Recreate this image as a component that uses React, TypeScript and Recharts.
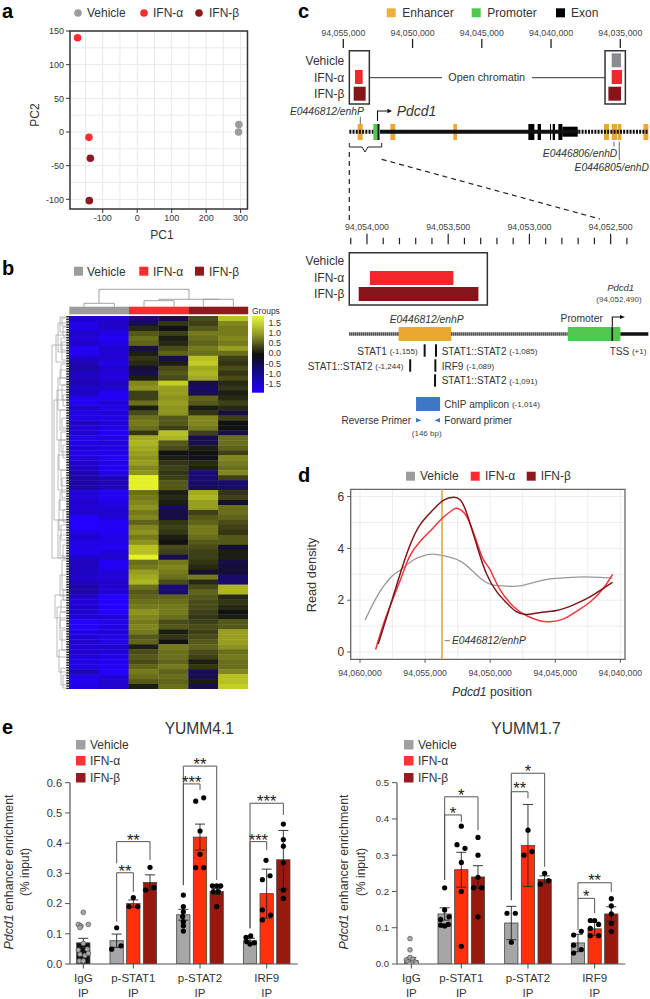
import React from "react";
import {
  ComposedChart, ScatterChart, LineChart, Scatter, Line, Bar, ErrorBar, XAxis, YAxis,
  CartesianGrid, ReferenceArea, ReferenceLine,
} from "recharts";

const FONT = '"Liberation Sans", Arial, sans-serif';
const GRAY = "#9C9C9C";
const RED = "#FF2B2F";
const DARK = "#8E1A1E";
const ORANGE = "#E9A82F";
const GREEN = "#50C850";
const INK = "#333";

/* ---------- a: PCA ---------- */
const pcaVehicle = [{ x: 295, y: 11 }, { x: 294, y: 0 }];
const pcaAlpha = [{ x: -173, y: 140 }, { x: -140, y: -8 }];
const pcaBeta = [{ x: -136, y: -39 }, { x: -139, y: -102 }];
const pcaXTicks = [-100, 0, 100, 200, 300];
const pcaYTicks = [-100, -50, 0, 50, 100, 150];
const pcaXGrid = [-150, -100, -50, 0, 50, 100, 150, 200, 250, 300];
const pcaYGrid = [-100, -75, -50, -25, 0, 25, 50, 75, 100, 125, 150];

/* ---------- b: heatmap ---------- */
const heatVeh1 = [-1.5,-1.7,-1.7,-1.5,-1.6,-1.5,-1.8,-1.8,-1.5,-1.3,-1.2,-1.4,-1.4,-1.3,-1.5,-1.4,-1.7,-1.8,-1.5,-1.7,-1.7,-1.4,-1.6,-1.5,-1.7,-1.7,-1.6,-1.7,-1.6,-1.5,-1.5,-1.3,-1.2,-1.2,-1.2,-1.6,-1.6,-1.5,-1.6,-1.5,-1.9,-1.9,-1.9,-1.7,-1.5,-1.7,-1.7,-1.8,-1.5,-1.4,-1.4,-1.4,-1.5,-1.4,-1.2,-1.2,-1.5,-1.6,-1.5,-1.5,-1.6,-1.9,-1.9,-1.7,-1.6,-1.5,-1.6,-1.5,-1.6,-1.7,-1.7,-1.3,-1.7,-1.8,-1.7];
const heatVeh2 = [-1.6,-1.4,-1.5,-1.7,-1.8,-1.7,-1.5,-1.6,-1.5,-1.7,-1.5,-1.6,-1.6,-1.4,-1.5,-1.8,-1.8,-1.6,-1.7,-1.6,-1.7,-1.6,-1.7,-1.8,-1.7,-1.6,-1.7,-1.7,-1.8,-1.7,-1.8,-1.7,-1.4,-1.3,-1.4,-1.8,-1.8,-1.7,-1.6,-1.5,-1.6,-1.8,-1.8,-1.8,-1.7,-1.7,-1.8,-1.6,-1.5,-1.8,-1.8,-1.6,-1.6,-1.5,-1.5,-1.6,-2,-2,-2,-1.9,-1.6,-1.7,-1.7,-1.6,-1.7,-1.7,-1.5,-1.6,-1.7,-1.8,-1.8,-2,-1.6,-1.5,-1.5];
const heatA1 = [-0.7,-0.5,0.2,0.6,0.8,0.7,-0.4,0.1,0.3,0.2,-0.3,-0.5,0.1,1.0,1.1,0.4,0.4,0.8,0.1,0.5,0.8,0.9,0.8,0.3,1.3,1.4,1.3,1.2,1.1,1.2,1.0,1.1,1.9,1.9,1.9,0.8,0.9,1.0,1.1,0.9,1.0,0.7,1.0,1.1,0.9,1.1,1.5,1.5,1.9,0.8,0.9,1.2,1.3,1.4,0.8,0.6,0.7,0.8,0.9,1.1,1.0,0.9,1.0,0.9,0.6,0.7,0.1,0.5,0.6,0.5,0.7,0.9,0.8,0.6,0.1];
const heatA2 = [-0.4,0.3,0.0,0.4,0.1,0.2,0.5,0.7,-0.5,0.1,0.5,0.6,0.5,1.6,1.2,1.2,1.1,1.2,1.1,1.1,0.6,0.6,0.4,1.5,1.4,0.6,0.5,0.0,0.1,0.3,0.4,0.3,0.4,0.6,0.6,0.1,0.2,0.1,-0.6,-0.4,-0.4,0.3,0.4,0.3,0.1,0.0,0.5,0.4,-0.5,0.9,1.0,0.9,0.8,0.5,-0.8,-0.8,0.7,0.8,0.9,0.9,0.8,0.5,0.6,0.1,0.3,0.0,0.9,0.8,0.8,0.7,0.9,0.7,0.8,0.7,0.8];
const heatB1 = [0.5,0.4,0.6,0.9,0.8,0.7,0.9,0.8,1.5,1.6,1.3,1.4,1.3,-0.4,-0.7,-0.5,0.7,0.6,0.1,0.3,1.0,1.0,0.9,0.4,-0.5,-0.5,0.1,0,-0.1,0.2,0.1,-0.8,-0.8,-0.7,-0.6,1.3,1.4,1.2,1.2,0.4,0.6,0.7,0.9,0.9,0.8,0.6,0.5,0.4,0.4,0.3,0.2,-0.2,0.9,0.2,0.5,0.7,0.6,0.5,0.5,0.4,0.3,0.4,0.5,0.4,0.5,0.6,0.7,0.5,0.4,0.1,0.3,-0.6,-0.5,0.1,-0.5];
const heatB2 = [1.5,1.0,0.9,0.9,1.0,0.9,1.2,0.8,0.4,0.3,0.5,0.3,0.5,0.2,0.3,0.1,0.2,0.4,0.2,-0.4,0.4,0.0,0.0,-0.5,0.8,0.8,0.7,0.4,1.0,0.9,0.8,1.0,0.4,-0.7,-0.7,0.3,0.4,-0.2,0.8,0.8,0.7,0.5,0.4,0.3,0.6,0.6,-0.3,0.1,0.1,-0.4,-0.3,-0.3,-0.7,-0.7,1.4,1.4,0.2,0.3,0.2,0,0.1,0.6,0.6,1.2,1.2,1.2,1.1,0.8,0.9,0.8,0.8,1.0,1.5,1.5,1.6];
const heatColumns = [heatVeh1, heatVeh2, heatA1, heatA2, heatB1, heatB2];
const legendScaleLabels = ["1.5", "1.0", "0.5", "0.0", "-0.5", "-1.0", "-1.5"];
const sideDendro = [[60,317,332],[62,318,326],[63,327,336],[58,323,352],[61,338,350],[62,342,360],[56,335,362],[52,345,558],[61,364,378],[60,370,385],[58,378,410],[62,385,400],[63,395,406],[57,390,440],[60,410,430],[62,418,428],[61,432,452],[59,440,470],[63,445,458],[58,455,490],[61,470,486],[62,478,498],[60,492,510],[59,500,530],[63,510,522],[61,525,540],[60,535,556],[63,545,558],[58,520,558],[54,400,520],[62,560,590],[60,575,596],[63,590,600],[61,600,612],[55,595,618],[57,607,657],[60,620,640],[62,630,650],[59,650,672],[61,668,685],[63,675,688],[60,612,628]];

/* ---------- c: locus tracks ---------- */
const locusTicks = [94055000, 94050000, 94045000, 94040000, 94035000];
const openLeft = [94054564, 94053120];
const openRight = [94036102, 94034634];
const vehPeaks = [[94035621, 94034947]];
const alphaPeaks = [[94054155, 94053602], [94035621, 94034875]];
const betaPeaks = [[94054251, 94053385], [94035861, 94034947]];
const enhancers = [[94053963, 94053602],[94051604, 94051243],[94047055, 94046790],[94036175, 94035814],[94035621, 94035236],[94035188, 94034923],[94033335, 94032974]];
const promoter = [94052831, 94052350];
const tssTop = 94052470;
const exons = [[94041639, 94041205],[94040965, 94040724],[94040074, 94040002],[94039882, 94039713],[94039473, 94039184]];
const utr = [94039184, 94038076];
const dottedTop = [[94054564, 94052831],[94038028, 94032974]];
const solidTop = [94052350, 94038028];

const zoomTicks = [94054100,94054000,94053900,94053800,94053700,94053600,94053500,94053400,94053300,94053200,94053100,94053000,94052900,94052800,94052700,94052600,94052500,94052400];
const zoomMajor = [94054000, 94053500, 94053000, 94052500];
const zoomBox = [94054109, 94053259];
const zoomAlpha = [94053982, 94053468];
const zoomBeta = [94054051, 94053314];
const zoomEnh = [94053805, 94053481];
const zoomProm = [94052764, 94052440];
const TSS = 94052490;
const zoomDotted = [[94054109, 94053805],[94053481, 94052764]];
const zoomSolid = [94052440, 94052268];
const motifsRow1 = [-1155, -1085];
const motifsRow2 = [-1244, -1089];
const motifsRow3 = [-1091];
const amplicon = [94053698, 94053550];

/* ---------- d: read density ---------- */
const densityVehicle = [[94059600,1.24],[94058700,2.14],[94057700,2.85],[94056900,3.17],[94055900,3.55],[94054900,3.75],[94054400,3.78],[94053600,3.72],[94052300,3.51],[94051300,3.1],[94050500,2.75],[94049800,2.59],[94048700,2.54],[94047700,2.55],[94046700,2.68],[94045400,2.82],[94044100,2.87],[94042900,2.9],[94041600,2.88],[94040600,2.85]];
const densityAlpha = [[94058800,0.1],[94058000,1.36],[94056900,2.78],[94056200,3.68],[94055400,4.26],[94054400,4.78],[94053600,5.2],[94052800,5.51],[94052500,5.54],[94051800,5.23],[94051000,4.2],[94050500,3.55],[94050000,3.17],[94049300,2.46],[94048200,1.75],[94047200,1.4],[94046200,1.21],[94045400,1.17],[94044400,1.27],[94043400,1.56],[94042300,1.94],[94041300,2.46],[94040600,3.0]];
const densityBeta = [[94058600,0.31],[94057700,1.75],[94056900,3.04],[94056200,4.07],[94055400,4.9],[94054400,5.48],[94053600,5.85],[94052800,5.97],[94052300,5.87],[94051800,5.36],[94051000,4.07],[94050300,3.04],[94049500,2.33],[94048700,1.88],[94048000,1.56],[94047200,1.45],[94046200,1.52],[94044900,1.6],[94043600,1.82],[94042300,2.14],[94041300,2.46],[94040600,2.69]];
const densityXTicks = [94060000, 94055000, 94050000, 94045000, 94040000];
const densityXGrid = [94060000,94057500,94055000,94052500,94050000,94047500,94045000,94042500,94040000];
const densityYTicks = [0, 2, 4, 6];
const densityYGrid = [0, 1, 2, 3, 4, 5, 6];
const enhPosition = 94053700;

/* ---------- e: ChIP bars ---------- */
const slots = [0, 2, 3, 4, 6, 7, 8, 10, 11, 12];
const ipTickSlots = [0, 3, 7, 11];
const ipTickNames = ["IgG", "p-STAT1", "p-STAT2", "IRF9"];
const y41Means = [0.07, 0.077, 0.2, 0.27, 0.163, 0.42, 0.24, 0.077, 0.233, 0.345];
const y41Errs = [0.015, 0.022, 0.012, 0.025, 0.018, 0.043, 0.01, 0.008, 0.081, 0.097];
const y41Ticks = [0, 0.1, 0.2, 0.3, 0.4, 0.5, 0.6];
const y41Igg = [[0,0.171],[-0.3,0.131],[-0.14,0.126],[0.3,0.131],[-0.2,0.121],[0,0.068],[-0.3,0.046],[0.24,0.049],[-0.2,0.032],[0.1,0.028],[0.3,0.035],[-0.24,0.01],[0,0.01]];
const y41Dots = [[2,0.12],[1.7,0.049],[2.26,0.06],[3,0.22],[2.74,0.19],[3.26,0.19],[4,0.32],[3.74,0.245],[4.24,0.253],[6,0.228],[6,0.19],[6,0.173],[5.96,0.157],[6,0.14],[6,0.127],[6,0.109],[6.74,0.539],[7.22,0.55],[7,0.44],[7,0.363],[6.74,0.319],[7.22,0.319],[7.74,0.259],[8,0.259],[8.24,0.259],[7.8,0.24],[8.1,0.24],[8,0.19],[9.76,0.088],[10.04,0.093],[9.8,0.074],[10,0.066],[10.26,0.07],[10.96,0.343],[10.74,0.279],[11.2,0.292],[10.74,0.179],[11.24,0.162],[10.74,0.146],[12,0.463],[12,0.412],[12,0.39],[12,0.335],[12,0.245],[12,0.217]];
const y41Brackets = [[2,3,0.302,0.14,0.239],[2,4,0.405,0.333,0.344],[6,7,0.596,0.261,0.576],[6,8,0.655,0.261,0.278],[10,11,0.405,0.118,0.377],[10,12,0.532,0.118,0.493]];
const y41Stars = [[2.5,0.318,"**"],[3,0.42,"**"],[6.5,0.613,"***"],[7,0.672,"**"],[10.5,0.42,"***"],[11,0.55,"***"]];
const y17Means = [0.01, 0.138, 0.26, 0.24, 0.113, 0.327, 0.233, 0.058, 0.097, 0.138];
const y17Errs = [0.008, 0.017, 0.048, 0.031, 0.046, 0.113, 0.01, 0.024, 0.018, 0.02];
const y17Ticks = [0, 0.1, 0.2, 0.3, 0.4, 0.5];
const y17Igg = [[-0.08,0.07],[-0.08,0.039],[-0.08,0.018],[-0.3,0.011],[0.1,0.013],[-0.2,0.006],[0.2,0.006],[0,0.003],[0.3,0.003],[-0.1,0]];
const y17Dots = [[2,0.21],[2,0.149],[1.76,0.123],[2.26,0.13],[1.76,0.107],[2,0.105],[2.22,0.109],[3,0.38],[2.74,0.329],[3.22,0.319],[3,0.28],[3,0.2],[3,0.049],[4,0.349],[4,0.3],[4,0.239],[3.74,0.21],[4.22,0.21],[4,0.13],[5.74,0.14],[6.24,0.14],[6,0.06],[7,0.369],[6.76,0.3],[7.24,0.31],[8,0.25],[7.74,0.22],[8.24,0.23],[9.74,0.08],[10.2,0.09],[9.74,0.052],[10.2,0.04],[9.74,0.03],[10.74,0.098],[11.24,0.109],[10.74,0.078],[11.24,0.078],[10.74,0.12],[11,0.12],[12,0.18],[12,0.16],[12,0.138],[12,0.112],[12,0.09]];
const y17Brackets = [[2,3,0.411,0.232,0.392],[2,4,0.461,0.232,0.369],[6,7,0.475,0.176,0.457],[6,8,0.526,0.176,0.268],[10,11,0.181,0.094,0.14],[10,12,0.224,0.181,0.199]];
const y17Stars = [[2.5,0.425,"*"],[3,0.475,"*"],[6.5,0.494,"**"],[7,0.54,"*"],[10.5,0.195,"*"],[11,0.239,"**"]];
const barFills = ["#111", "#A6A6A6", "#FF300C", "#981A0E", "#A6A6A6", "#FF300C", "#981A0E", "#A6A6A6", "#FF300C", "#981A0E"];
const barFills17 = ["#A6A6A6", "#A6A6A6", "#FF300C", "#981A0E", "#A6A6A6", "#FF300C", "#981A0E", "#A6A6A6", "#FF300C", "#981A0E"];

/* ---------- helpers ---------- */
const Abs = ({ l, t, children }: any) => <div style={{ position: "absolute", left: l, top: t }}>{children}</div>;

const T = ({ x, y, s = 10, a = "start", w, i, fill = INK, rot, children }: any) => (
  <text x={x} y={y} fontSize={s} textAnchor={a} dominantBaseline="central" fontWeight={w} fontStyle={i ? "italic" : undefined} fill={fill}
    transform={rot ? `rotate(${rot} ${x} ${y})` : undefined}>{children}</text>
);

const heatColor = (v: number) => {
  if (v >= 0) {
    const t = Math.min(v / 1.9, 1);
    return `rgb(${Math.round(18 + 210 * t)},${Math.round(18 + 222 * t)},${Math.round(18 + 22 * t)})`;
  }
  const t = Math.min(-v / 1.9, 1);
  return `rgb(${Math.round(18 + 18 * t)},${Math.round(18 - 18 * t)},${Math.round(18 + 237 * t)})`;
};

const heatPoints = heatColumns.flatMap((col, c) => col.map((v, r) => ({ col: c + 0.5, row: r + 0.5, v })));
const HEAT_W = 178.9, HEAT_H = 373;
const nRows = heatVeh1.length;
const HeatCell = (p: any) => {
  const w = HEAT_W / 6, h = HEAT_H / nRows;
  return <rect x={p.cx - w / 2} y={p.cy - h / 2} width={w + 0.3} height={h + 0.4} fill={heatColor(p.payload.v)} />;
};

const bandEls = (ranges: number[][], y1: number, y2: number, fill: string, key: string) =>
  ranges.map((r, i) => <ReferenceArea key={key + i} x1={r[0]} x2={r[1]} y1={y1} y2={y2} fill={fill} fillOpacity={1} stroke="none" ifOverflow="visible" />);
const segEls = (ranges: number[][], y: number, width: number, key: string, dash?: string) =>
  ranges.map((r, i) => (
    <ReferenceLine key={key + i} segment={[{ x: r[0], y }, { x: r[1], y }]} stroke="#111" strokeWidth={width} strokeDasharray={dash} ifOverflow="visible" />
  ));

const fmt = (v: number) => v.toLocaleString("en-US");

const TopTick = (p: any) => (
  <g>
    <line x1={p.x} x2={p.x} y1={p.y} y2={p.y - 9} stroke="#222" strokeWidth={1.3} />
    <text x={p.x} y={p.y - 15} fontSize={8.8} textAnchor="middle" dominantBaseline="central" fill="#444">{fmt(p.payload.value)}</text>
  </g>
);
const ZoomTick = (p: any) => {
  const major = zoomMajor.includes(p.payload.value);
  return (
    <g>
      <line x1={p.x} x2={p.x} y1={p.y} y2={p.y - (major ? 10.5 : 6.5)} stroke="#222" strokeWidth={1.2} />
      {major && <text x={p.x} y={p.y - 17.5} fontSize={8.8} textAnchor="middle" dominantBaseline="central" fill="#444">{fmt(p.payload.value)}</text>}
    </g>
  );
};

const Dot = (p: any) => <circle cx={p.cx} cy={p.cy} r={2.6} fill="#000" />;
const IgDot = (p: any) => <circle cx={p.cx} cy={p.cy} r={2.4} fill="#A8A8A8" stroke="#444" strokeWidth={0.6} />;
const Star = (p: any) => (
  <text x={p.cx} y={p.cy + 9} fontSize={16.5} textAnchor="middle" fill="#222" fontFamily={FONT}>{p.payload.label}</text>
);

const IpTick = (p: any) => {
  const name = ipTickNames[ipTickSlots.indexOf(p.payload.value)];
  return (
    <g>
      <line x1={p.x} x2={p.x} y1={p.y} y2={p.y + 4.5} stroke="#444" strokeWidth={1} />
      <text x={p.x} y={p.y + 14} fontSize={11.5} textAnchor="middle" dominantBaseline="central" fill={INK}>{name}</text>
      <text x={p.x} y={p.y + 28.5} fontSize={11.5} textAnchor="middle" dominantBaseline="central" fill={INK}>IP</text>
    </g>
  );
};

const EnrichChart = ({ width, height, right, top, domain, xDomain, means, errs, fills, ticks, igg, dots, brackets, stars, axisTop, tickSize }: any) => {
  const rows = slots.map((slot, i) => ({ slot, value: means[i], err: errs[i], fill: fills[i] }));
  const iggPts = igg.map((d: number[]) => ({ slot: d[0], value: d[1] }));
  const dotPts = dots.map((d: number[]) => ({ slot: d[0], value: d[1] }));
  const starPts = stars.map((d: any[]) => ({ slot: d[0], value: d[1], label: d[2] }));
  const BarRect = (p: any) => {
    const w = 13.3;
    const cx = p.x + p.width / 2;
    return <rect x={cx - w / 2} y={p.y} width={w} height={p.height} fill={p.payload?.fill ?? p.fill ?? "#888"} stroke="#444" strokeWidth={0.8} />;
  };
  return (
    <ComposedChart width={width} height={height} data={rows} margin={{ top, right, bottom: 0, left: 0 }} style={{ fontFamily: FONT }}>
      <XAxis dataKey="slot" type="number" domain={xDomain} allowDataOverflow ticks={ipTickSlots} interval={0} height={35} tickSize={0} tickMargin={0} tick={<IpTick />} tickLine={false} axisLine={{ stroke: "#555", strokeWidth: 1.2 }} />
      <YAxis dataKey="value" type="number" domain={domain} allowDataOverflow ticks={ticks} interval={0} width={50} tickSize={5} tickMargin={3} tick={{ fontSize: tickSize, fill: INK }} axisLine={false} tickLine={{ stroke: "#555" }} tickFormatter={(v: number) => v.toFixed(1)} />
      <ReferenceLine segment={[{ x: xDomain[0], y: 0 }, { x: xDomain[0], y: axisTop }]} stroke="#555" strokeWidth={1.2} ifOverflow="visible" />
      <Bar dataKey="value" barSize={13.3} isAnimationActive={false} shape={BarRect}>
        <ErrorBar dataKey="err" width={5} stroke="#222" strokeWidth={0.9} direction="y" isAnimationActive={false} />
      </Bar>
      <Scatter data={iggPts} shape={<IgDot />} isAnimationActive={false} />
      <Scatter data={dotPts} shape={<Dot />} isAnimationActive={false} />
      {brackets.flatMap((b: number[], i: number) => [
        <ReferenceLine key={"bt" + i} segment={[{ x: b[0], y: b[2] }, { x: b[1], y: b[2] }]} stroke="#555" strokeWidth={1} ifOverflow="visible" />,
        <ReferenceLine key={"bl" + i} segment={[{ x: b[0], y: b[3] }, { x: b[0], y: b[2] }]} stroke="#555" strokeWidth={1} ifOverflow="visible" />,
        <ReferenceLine key={"br" + i} segment={[{ x: b[1], y: b[4] }, { x: b[1], y: b[2] }]} stroke="#555" strokeWidth={1} ifOverflow="visible" />,
      ])}
      <Scatter data={starPts} shape={<Star />} isAnimationActive={false} />
    </ComposedChart>
  );
};

const Sq = ({ x, y, s = 9, fill }: any) => <rect x={x} y={y} width={s} height={s} fill={fill} />;

export default function App() {
  const dendroPath = sideDendro.map(([x, a, b]) => `M66 ${a}H${x}V${b}H66`).join(" ");
  const TR1 = { y1: 124, y2: 140, c: 131.7 };
  return (
    <div style={{ position: "absolute", left: 0, top: 0, width: 650, height: 999, background: "#fff", overflow: "hidden", fontFamily: FONT }}>
      {/* a */}
      <Abs l={20} t={20}>
        <ScatterChart width={240} height={209} margin={{ top: 11, right: 12.5, bottom: 0, left: 0 }} style={{ fontFamily: FONT }}>
          <CartesianGrid stroke="#E9E9E9" verticalValues={pcaXGrid} horizontalValues={pcaYGrid} />
          <XAxis dataKey="x" type="number" domain={[-195, 320]} allowDataOverflow ticks={pcaXTicks} interval={0} height={20} tickSize={4} tickMargin={2} tick={{ fontSize: 9, fill: INK }} tickLine={{ stroke: "#333" }} axisLine={false} />
          <YAxis dataKey="y" type="number" domain={[-114.4, 150]} allowDataOverflow ticks={pcaYTicks} interval={0} width={50} tickSize={4} tickMargin={2} tick={{ fontSize: 9, fill: INK }} tickLine={{ stroke: "#333" }} axisLine={false} />
          <ReferenceArea x1={-195} x2={320} y1={-114.4} y2={150} fill="none" fillOpacity={0} stroke="#333" strokeWidth={1.5} ifOverflow="visible" />
          <Scatter data={pcaVehicle} fill={GRAY} shape={(p: any) => <circle cx={p.cx} cy={p.cy} r={3.8} fill={GRAY} />} isAnimationActive={false} />
          <Scatter data={pcaAlpha} shape={(p: any) => <circle cx={p.cx} cy={p.cy} r={3.8} fill={RED} />} isAnimationActive={false} />
          <Scatter data={pcaBeta} shape={(p: any) => <circle cx={p.cx} cy={p.cy} r={3.8} fill={DARK} />} isAnimationActive={false} />
        </ScatterChart>
      </Abs>

      {/* b */}
      <Abs l={69.3} t={316}>
        <ScatterChart width={HEAT_W} height={HEAT_H} margin={{ top: 0, right: 0, bottom: 0, left: 0 }}>
          <XAxis dataKey="col" type="number" domain={[0, 6]} hide />
          <YAxis dataKey="row" type="number" domain={[0, nRows]} reversed hide />
          <Scatter data={heatPoints} shape={<HeatCell />} isAnimationActive={false} />
        </ScatterChart>
      </Abs>

      {/* c top */}
      <Abs l={285} t={25}>
        <ComposedChart width={365} height={185} data={locusTicks.map((x) => ({ x, y: 100 }))} margin={{ top: 0, right: 2, bottom: 0, left: 16.75 }} style={{ fontFamily: FONT }}>
          <XAxis xAxisId={0} dataKey="x" type="number" orientation="top" reversed domain={[94033000, 94058000]} allowDataOverflow ticks={locusTicks} interval={0} height={23} tickSize={0} tickMargin={0} tick={<TopTick />} tickLine={false} axisLine={false} />
          <YAxis dataKey="y" type="number" domain={[48, 210]} reversed hide />
          {[openLeft, openRight].map((r, i) => (
            <ReferenceArea key={"o" + i} x1={r[0]} x2={r[1]} y1={50.7} y2={104} fill="#fff" fillOpacity={0} stroke="#333" strokeWidth={1.5} ifOverflow="visible" />
          ))}
          {bandEls(vehPeaks, 53.3, 67.3, "#8C8C90", "v")}
          {bandEls(alphaPeaks, 70, 84, "#F3262B", "a")}
          {bandEls(betaPeaks, 86.7, 100.7, "#861519", "b")}
          {segEls(dottedTop, TR1.c, 4, "dt", "2 1.2")}
          {segEls([solidTop], TR1.c, 4, "st")}
          {bandEls(enhancers, TR1.y1, TR1.y2, ORANGE, "e")}
          {bandEls([promoter], TR1.y1, TR1.y2, GREEN, "p")}
          <ReferenceLine segment={[{ x: tssTop, y: TR1.y1 }, { x: tssTop, y: TR1.y2 }]} stroke="#111" strokeWidth={1.6} ifOverflow="visible" />
          {bandEls(exons, TR1.y1, TR1.y2, "#000", "x")}
          {bandEls([utr], 126.7, 136.7, "#000", "u")}
          <Line dataKey="y" stroke="none" dot={false} isAnimationActive={false} />
        </ComposedChart>
      </Abs>

      {/* c zoom */}
      <Abs l={285} t={210}>
        <ComposedChart width={365} height={250} data={zoomTicks.map((x) => ({ x, y: 300 }))} margin={{ top: 0, right: 2, bottom: 0, left: 17 }} style={{ fontFamily: FONT }}>
          <XAxis dataKey="x" type="number" orientation="top" reversed domain={[94052270, 94054400]} allowDataOverflow ticks={zoomTicks} interval={0} height={34.3} tickSize={0} tickMargin={0} tick={<ZoomTick />} tickLine={false} axisLine={false} />
          <YAxis dataKey="y" type="number" domain={[244.3, 460]} reversed hide />
          <ReferenceArea x1={zoomBox[0]} x2={zoomBox[1]} y1={252.7} y2={305} fill="#fff" fillOpacity={0} stroke="#333" strokeWidth={1.5} ifOverflow="visible" />
          {bandEls([zoomAlpha], 271, 285, "#F3262B", "za")}
          {bandEls([zoomBeta], 287, 301, "#861519", "zb")}
          {segEls(zoomDotted, 334, 3.5, "zd", "1.2 0.8")}
          {segEls([zoomSolid], 334, 3.5, "zs")}
          {bandEls([zoomEnh], 327, 341, ORANGE, "ze")}
          {bandEls([zoomProm], 327, 341, GREEN, "zp")}
          <ReferenceLine segment={[{ x: TSS, y: 327 }, { x: TSS, y: 341 }]} stroke="#111" strokeWidth={1.6} ifOverflow="visible" />
          {motifsRow1.map((o) => <ReferenceLine key={o} segment={[{ x: TSS - o, y: 344.3 }, { x: TSS - o, y: 356.7 }]} stroke="#111" strokeWidth={2} ifOverflow="visible" />)}
          {motifsRow2.map((o) => <ReferenceLine key={o} segment={[{ x: TSS - o, y: 359.3 }, { x: TSS - o, y: 371.7 }]} stroke="#111" strokeWidth={2} ifOverflow="visible" />)}
          {motifsRow3.map((o) => <ReferenceLine key={o} segment={[{ x: TSS - o, y: 374.3 }, { x: TSS - o, y: 386.7 }]} stroke="#111" strokeWidth={2} ifOverflow="visible" />)}
          {bandEls([amplicon], 397, 411, "#3D78C8", "am")}
          <Line dataKey="y" stroke="none" dot={false} isAnimationActive={false} />
        </ComposedChart>
      </Abs>

      {/* d */}
      <Abs l={300} t={480}>
        <LineChart width={350} height={200} margin={{ top: 9.3, right: 25, bottom: 0.7, left: 0 }} style={{ fontFamily: FONT }}>
          <CartesianGrid stroke="#EDEDED" verticalValues={densityXGrid} horizontalValues={densityYGrid} />
          <XAxis dataKey="0" type="number" reversed domain={[94039640, 94060715]} allowDataOverflow ticks={densityXTicks} interval={0} height={20} tickSize={3.5} tickMargin={7} tick={{ fontSize: 8.7, fill: "#444" }} tickLine={{ stroke: "#555" }} axisLine={false} tickFormatter={fmt} />
          <YAxis dataKey="1" type="number" domain={[-0.28, 6.28]} allowDataOverflow ticks={densityYTicks} interval={0} width={50.7} tickSize={3.5} tickMargin={3} tick={{ fontSize: 12, fill: INK }} tickLine={{ stroke: "#555" }} axisLine={false} />
          <ReferenceArea x1={94039640} x2={94060715} y1={-0.28} y2={6.28} fill="none" fillOpacity={0} stroke="#666" strokeWidth={1.3} ifOverflow="visible" />
          <Line data={densityVehicle} dataKey="1" type="natural" stroke="#999" strokeWidth={1.3} dot={false} isAnimationActive={false} />
          <ReferenceLine x={enhPosition} stroke={ORANGE} strokeWidth={1.6} ifOverflow="visible" />
          <Line data={densityAlpha} dataKey="1" type="natural" stroke="#F5333A" strokeWidth={1.5} dot={false} isAnimationActive={false} />
          <Line data={densityBeta} dataKey="1" type="natural" stroke="#7E1518" strokeWidth={1.5} dot={false} isAnimationActive={false} />
          <ReferenceLine segment={[{ x: 94053500, y: 0.44 }, { x: 94053100, y: 0.44 }]} stroke="#777" strokeWidth={1} ifOverflow="visible" />
        </LineChart>
      </Abs>

      {/* e */}
      <Abs l={20} t={745}>
        <EnrichChart width={290} height={254} right={12.3} top={7.5} domain={[0, 0.7]} xDomain={[-0.8, 12.86]} means={y41Means} errs={y41Errs} fills={barFills} ticks={y41Ticks} igg={y41Igg} dots={y41Dots} brackets={y41Brackets} stars={y41Stars} axisTop={0.6} tickSize={11} />
      </Abs>
      <Abs l={346.7} t={745}>
        <EnrichChart width={300} height={254} right={21.7} top={1.4} domain={[0, 0.6]} xDomain={[-0.86, 12.84]} means={y17Means} errs={y17Errs} fills={barFills17} ticks={y17Ticks} igg={y17Igg} dots={y17Dots} brackets={y17Brackets} stars={y17Stars} axisTop={0.5} tickSize={9.5} />
      </Abs>

      {/* annotation overlay */}
      <svg width={650} height={999} style={{ position: "absolute", left: 0, top: 0, pointerEvents: "none", fontFamily: FONT }}>
        <defs>
          <linearGradient id="heatLegend" x1="0" x2="0" y1="0" y2="1">
            <stop offset="0" stopColor="#E6F83A" />
            <stop offset="0.25" stopColor="#8F9628" />
            <stop offset="0.5" stopColor="#0E0E0E" />
            <stop offset="0.75" stopColor="#140A90" />
            <stop offset="1" stopColor="#2400FF" />
          </linearGradient>
        </defs>
        {/* panel letters */}
        <T x={2} y={11} s={20} w="bold" fill="#000">a</T>
        <T x={2} y={268} s={20} w="bold" fill="#000">b</T>
        <T x={298} y={11} s={20} w="bold" fill="#000">c</T>
        <T x={298} y={475} s={20} w="bold" fill="#000">d</T>
        <T x={2} y={727} s={20} w="bold" fill="#000">e</T>

        {/* a legend */}
        <circle cx={78} cy={13} r={3.8} fill={GRAY} /><T x={87} y={13} s={12}>Vehicle</T>
        <circle cx={144} cy={13} r={3.8} fill={RED} /><T x={153} y={13} s={12}>IFN-α</T>
        <circle cx={199} cy={13} r={3.8} fill={DARK} /><T x={209} y={13} s={12}>IFN-β</T>
        <T x={162} y={235} s={12} a="middle">PC1</T>
        <T x={35} y={115} s={12} a="middle" rot={-90}>PC2</T>

        {/* b legend and dendrograms */}
        <Sq x={74} y={266.7} fill={GRAY} /><T x={87} y={271.5} s={12}>Vehicle</T>
        <Sq x={139.3} y={266.7} fill={RED} /><T x={153} y={271.5} s={12}>IFN-α</T>
        <Sq x={195} y={266.7} fill={DARK} /><T x={209} y={271.5} s={12}>IFN-β</T>
        <rect x={69.3} y={306.7} width={59.7} height={7.6} fill={GRAY} />
        <rect x={129} y={306.7} width={60} height={7.6} fill={RED} />
        <rect x={189} y={306.7} width={59.2} height={7.6} fill={DARK} />
        <path d="M84 306.7V303.3H114.3V306.7 M99 303.3V289.3H189V299.3 M144 306.7V300.7H174V306.7 M159 300.7V299.3H219V299.3 M203.3 306.7V299.3H233.3V306.7" fill="none" stroke="#999" strokeWidth={0.9} />
        <path d={dendroPath} fill="none" stroke="#AAA" strokeWidth={0.8} />
        <line x1={67.6} x2={67.6} y1={316} y2={689} stroke="#222" strokeWidth={2.6} strokeDasharray="1.6 1" />
        <rect x={252} y={316} width={12} height={76.7} fill="url(#heatLegend)" />
        <T x={252} y={311} s={8.5}>Groups</T>
        {legendScaleLabels.map((l, i) => <T key={l} x={281} y={322.7 + i * 10.2} s={9} a="end">{l}</T>)}

        {/* c legend */}
        <Sq x={386.7} y={8.3} fill="#EBB040" /><T x={402.3} y={13} s={12}>Enhancer</T>
        <Sq x={471.7} y={8.3} fill={GREEN} /><T x={487.3} y={13} s={12}>Promoter</T>
        <Sq x={556} y={8.3} fill="#000" /><T x={571} y={13} s={12}>Exon</T>
        <T x={344.3} y={61} s={12} a="end">Vehicle</T>
        <T x={344.3} y={77.7} s={12} a="end">IFN-α</T>
        <T x={344.3} y={94} s={12} a="end">IFN-β</T>
        <path d="M369.5 77.7H442 M532 77.7H605" stroke="#333" strokeWidth={1} />
        <T x={486.7} y={77} s={10.8} a="middle">Open chromatin</T>
        <T x={290} y={111} s={10.3} i>E0446812/enhP</T>
        <line x1={360.3} x2={360.3} y1={116.7} y2={124} stroke="#555" strokeWidth={0.9} />
        <T x={396.7} y={110.5} s={14} i>Pdcd1</T>
        <path d="M377.5 121V111H388" fill="none" stroke="#111" strokeWidth={1.1} />
        <polygon points="392,111 387.5,108.8 387.5,113.2" fill="#111" />
        <line x1={614} x2={614} y1={141.7} y2={146.7} stroke="#555" strokeWidth={0.9} />
        <line x1={619.3} x2={619.3} y1={141.7} y2={160} stroke="#555" strokeWidth={0.9} />
        <T x={617.3} y={153.3} s={10.3} a="end" i>E0446806/enhD</T>
        <T x={649} y={167.7} s={10.3} a="end" i>E0446805/enhD</T>
        <path d="M349.3 143V147H362L365 152L368 147H381.7V143" fill="none" stroke="#222" strokeWidth={1} />
        <line x1={349.3} x2={349.3} y1={152} y2={221} stroke="#222" strokeWidth={1.2} strokeDasharray="5 4" />
        <line x1={381.7} x2={600} y1={159.3} y2={219} stroke="#222" strokeWidth={1.2} strokeDasharray="5 4" />

        {/* c zoom labels */}
        <T x={344.3} y={261} s={12} a="end">Vehicle</T>
        <T x={344.3} y={277.7} s={12} a="end">IFN-α</T>
        <T x={344.3} y={293.7} s={12} a="end">IFN-β</T>
        <T x={620.7} y={287.7} s={9.5} a="middle" i>Pdcd1</T>
        <T x={619} y={299.7} s={8} a="middle" fill="#444">(94,052,490)</T>
        <T x={426.7} y={319} s={10.3} a="middle" i>E0446812/enhP</T>
        <T x={581.7} y={318} s={10.3} a="middle">Promoter</T>
        <path d="M612.3 327V317H620" fill="none" stroke="#111" strokeWidth={1.1} />
        <polygon points="625,317 620,315 620,319" fill="#111" />
        <T x={417.7} y={351} s={10} a="end">STAT1 <tspan fontSize={8}> (-1,155)</tspan></T>
        <T x={403.3} y={366} s={10} a="end">STAT1::STAT2 <tspan fontSize={8}> (-1,244)</tspan></T>
        <T x={441.7} y={351} s={10}>STAT1::STAT2 <tspan fontSize={8}> (-1,085)</tspan></T>
        <T x={441.7} y={366} s={10}>IRF9 <tspan fontSize={8}> (-1,089)</tspan></T>
        <T x={441.7} y={380.7} s={10}>STAT1::STAT2 <tspan fontSize={8}> (-1,091)</tspan></T>
        <T x={628} y={351} s={10} a="middle">TSS <tspan fontSize={8}>(+1)</tspan></T>
        <T x={444.3} y={404.3} s={10}>ChIP amplicon <tspan fontSize={8}> (-1,014)</tspan></T>
        <T x={411} y={420.3} s={10} a="end">Reverse Primer</T>
        <T x={444.3} y={420.3} s={10}>Forward primer</T>
        <polygon points="416,418 421.5,420.3 416,422.6" fill="#3D78C8" />
        <polygon points="440,418 434.5,420.3 440,422.6" fill="#3D78C8" />
        <T x={426.7} y={433.7} s={8} a="middle" fill="#444">(146 bp)</T>

        {/* d labels */}
        <Sq x={406} y={471.7} fill={GRAY} /><T x={420} y={476} s={12}>Vehicle</T>
        <Sq x={470.7} y={471.7} fill={RED} /><T x={485} y={476} s={12}>IFN-α</T>
        <Sq x={526.7} y={471.7} fill={DARK} /><T x={540.7} y={476} s={12}>IFN-β</T>
        <T x={452} y={640.7} s={10.3} i>E0446812/enhP</T>
        <T x={492} y={692} s={12.2} a="middle"><tspan fontStyle="italic">Pdcd1</tspan> position</T>
        <T x={311.7} y={575} s={12.8} a="middle" rot={-90}>Read density</T>

        {/* e labels */}
        <T x={199.3} y={728} s={15.6} a="middle">YUMM4.1</T>
        <T x={526} y={728} s={15.6} a="middle">YUMM1.7</T>
        <Sq x={76} y={740} s={9.5} fill="#A0A0A0" /><T x={90} y={744.5} s={12}>Vehicle</T>
        <Sq x={76} y={756} s={9.5} fill="#FF3333" /><T x={90} y={761} s={12}>IFN-α</T>
        <Sq x={76} y={773} s={9.5} fill="#941C1C" /><T x={90} y={778} s={12}>IFN-β</T>
        <Sq x={404} y={740} s={9.5} fill="#A0A0A0" /><T x={418} y={744.5} s={12}>Vehicle</T>
        <Sq x={404} y={756} s={9.5} fill="#FF3333" /><T x={418} y={761} s={12}>IFN-α</T>
        <Sq x={404} y={773} s={9.5} fill="#941C1C" /><T x={418} y={778} s={12}>IFN-β</T>
        <T x={8.5} y={872} s={12.4} a="middle" rot={-90}><tspan fontStyle="italic">Pdcd1</tspan> enhancer enrichment</T>
        <T x={25} y={872} s={12} a="middle" rot={-90}>(% input)</T>
        <T x={343.5} y={872} s={12.4} a="middle" rot={-90}><tspan fontStyle="italic">Pdcd1</tspan> enhancer enrichment</T>
        <T x={361} y={872} s={12} a="middle" rot={-90}>(% input)</T>
      </svg>
    </div>
  );
}
